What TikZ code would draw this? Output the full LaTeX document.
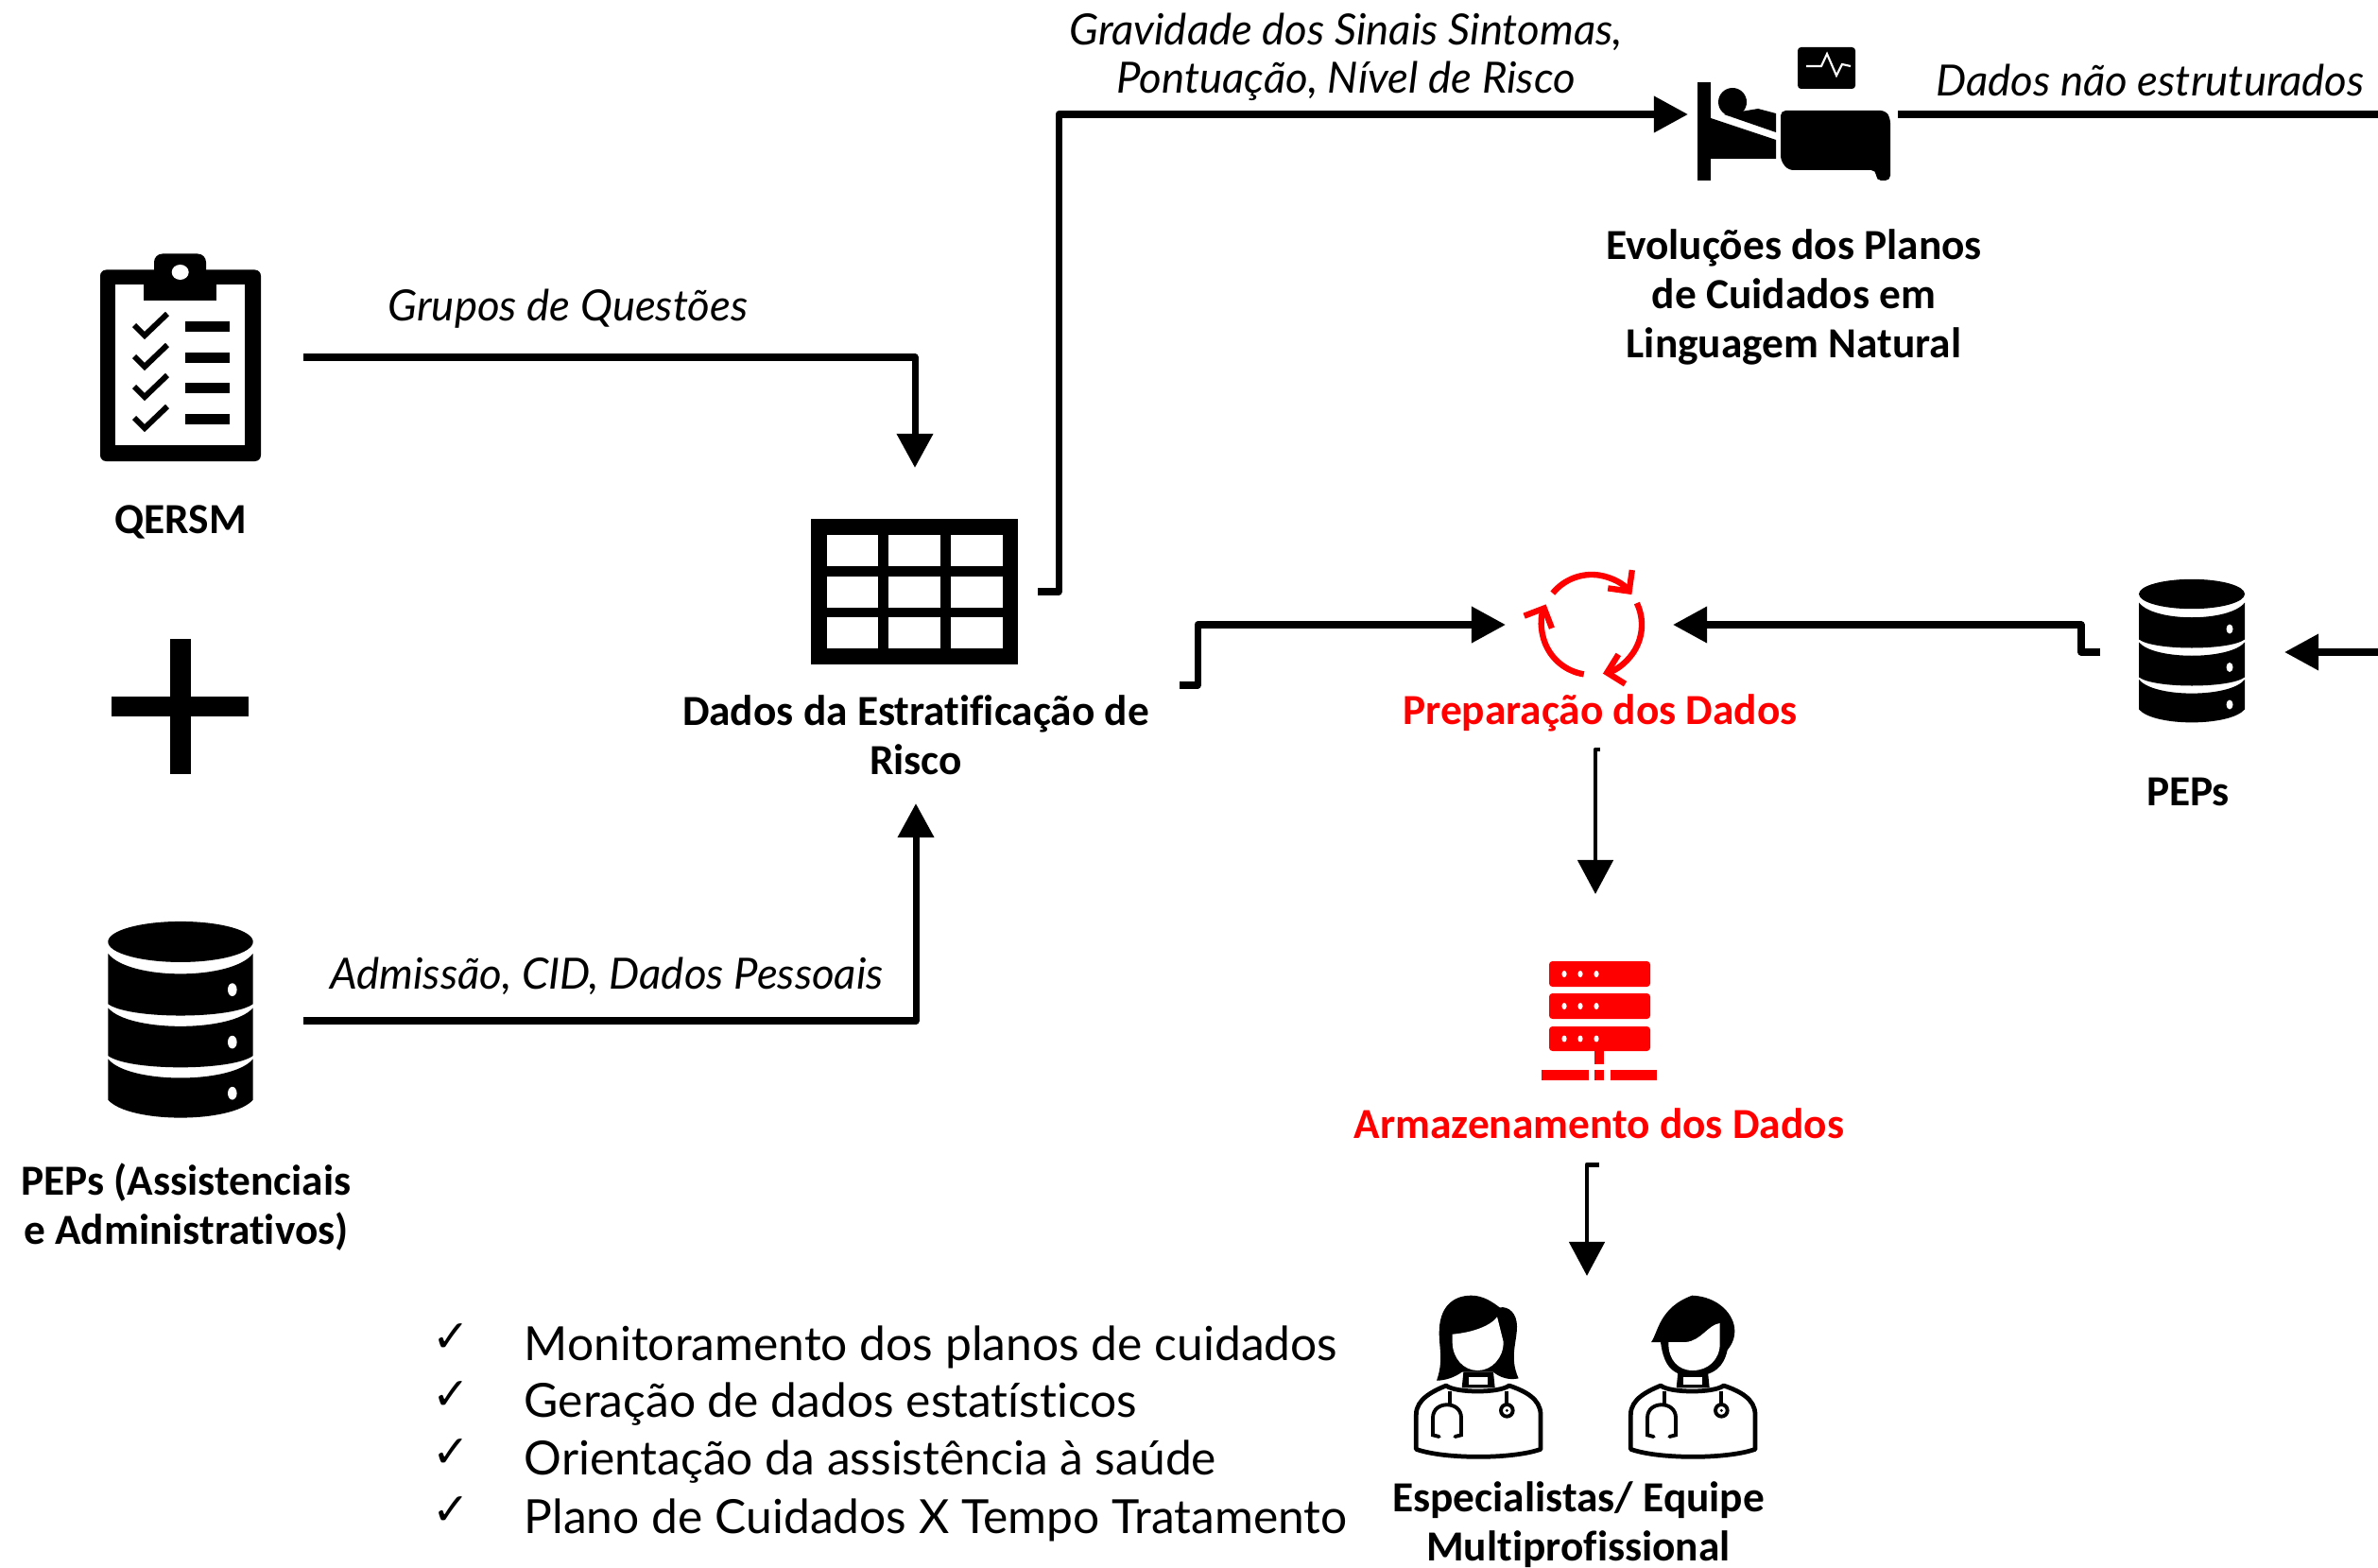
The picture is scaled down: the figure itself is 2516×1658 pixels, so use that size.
\documentclass[tikz,border=0pt]{standalone}
\usepackage{fontspec}
\setmainfont[Ligatures=NoCommon]{Carlito}
\newfontfamily\rotulofont[Ligatures=NoCommon]{Lato}
\newfontfamily\checkfont{DejaVu Sans}
\usetikzlibrary{arrows.meta}

\tikzset{
  titulo/.style={font=\bfseries\fontsize{12.9}{14.8}\selectfont, align=center},
  rotulo/.style={font=\rotulofont\itshape\fontsize{12.95}{14.6}\selectfont, align=center},
  lista/.style={font=\rotulofont\fontsize{14.15}{15}\selectfont, anchor=west, inner sep=0pt},
  conector/.style={line width=2pt, line join=round},
  fino/.style={line width=1.4pt, line join=round},
  vazio/.style={inner sep=0pt, outer sep=0pt},
  dbicon/.pic={
    \fill (0,-61) ellipse[x radius=56, y radius=15.7];
    \foreach \ya/\yb/\yc/\yd in {-52/-36/-13/-4, -10/4/27/36, 29.5/44/61/76.5}{
      \fill (-56,\ya) .. controls (-40,\yb+5) and (40,\yb+5) .. (56,\ya) -- (56,\yc)
        .. controls (40,\yd+3) and (-40,\yd+3) .. (-56,\yc) -- cycle;
    }
    \foreach \yh in {-24,16.5,56}{
      \fill[white] (40,\yh) ellipse[x radius=3.5, y radius=5];
    }
  },
  corpomedico/.pic={
    \draw[line width=1.35pt, line join=round, fill=white] (175,580) -- (175,470)
      .. controls (175,420) and (230,395) .. (270,378) .. controls (300,402) and (440,402) .. (470,378)
      .. controls (520,395) and (570,420) .. (570,470) -- (570,580)
      .. controls (480,612) and (265,612) .. (175,580) -- cycle;
    \draw[line width=.9pt] (282,395) -- (282,440);
    \draw[line width=1.1pt, line cap=round] (248,540) -- (228,535) -- (228,480)
      .. controls (228,425) and (318,425) .. (318,480) -- (318,535) -- (298,540);
    \draw[line width=.9pt] (462,395) -- (462,435);
    \draw[line width=1.1pt] (463,457) circle[radius=19];
    \fill (463,457) circle[radius=5];
  },
  medica/.pic={
    \fill (325,335) -- (420,335) -- (425,385) -- (320,385) -- cycle;
    \fill (240,362) .. controls (262,300) and (248,260) .. (248,210)
      .. controls (248,130) and (290,92) .. (350,92) .. controls (390,92) and (420,115) .. (440,130)
      .. controls (470,125) and (495,150) .. (495,190) .. controls (495,240) and (470,290) .. (500,355)
      .. controls (470,362) and (440,352) .. (420,335) -- (320,335) .. controls (300,350) and (270,362) .. (240,362) -- cycle;
    \fill[white] (290,215) .. controls (350,210) and (410,190) .. (432,160) -- (452,240)
      .. controls (452,290) and (415,330) .. (370,330) .. controls (325,330) and (290,290) .. (290,240) -- cycle;
    \fill[white] (342,352) rectangle (403,374);
  },
  medico/.pic={
    \fill (325,335) -- (420,335) -- (425,385) -- (320,385) -- cycle;
    \fill (240,240) .. controls (262,210) and (265,130) .. (370,92)
      .. controls (450,95) and (505,150) .. (505,205) .. controls (505,235) and (490,255) .. (482,265)
      .. controls (470,320) and (440,345) .. (372,350) .. controls (310,345) and (280,320) .. (270,240) -- cycle;
    \fill[white] (295,240) -- (350,240) .. controls (400,235) and (420,185) .. (458,180) -- (458,245)
      .. controls (458,295) and (420,330) .. (372,330) .. controls (325,330) and (295,295) .. (295,245) -- cycle;
    \fill[white] (342,352) rectangle (403,374);
  }
}

\begin{document}
\begin{tikzpicture}[x=0.01cm,y=-0.01cm,>={Triangle[length=3.6mm,width=3.7mm]}]
  \useasboundingbox (0,0) rectangle (2516,1658);

% define the icon areas
  \node[vazio, minimum width=2.6cm, minimum height=2.2cm] (prancheta) at (191,378) {};
  \node[vazio, minimum width=2.6cm, minimum height=2.08cm] (dbesq) at (191,1080) {};
  \node[vazio, minimum width=2.6cm, minimum height=2.62cm] (tabela) at (968,626) {};
  \node[vazio, minimum width=2.22cm, minimum height=1.4cm] (leito) at (1897,121) {};
  \node[vazio, minimum width=1.77cm, minimum height=1.2cm] (ciclo) at (1681.5,661) {};
  \node[vazio, minimum width=1.95cm, minimum height=1.53cm] (dbdir) at (2319.5,690) {};
  \node[vazio, minimum width=1.2cm, minimum height=1.98cm] (servidor) at (1688,1045) {};
  \node[vazio, minimum width=1.2cm, minimum height=2cm] (medicos) at (1679,1450) {};
  \coordinate (saidadados) at (1248,725);
  \coordinate (bordaleito) at (2516,121);
  \coordinate (bordapeps) at (2516,690);

% define the labels
  \node[titulo] (qersm) at (191,552) {QERSM};
  \node[titulo] (pepsadm) at (197,1277) {PEPs (Assistenciais\\e Administrativos)};
  \node[titulo, vazio, minimum height=1.44cm] (dados) at (969,778) {Dados da Estratificação de\\Risco};
  \node[titulo] (evolucoes) at (1898,314) {Evoluções dos Planos\\de Cuidados em\\Linguagem Natural};
  \node[titulo, text=red, vazio, minimum height=.78cm] (preparacao) at (1693,754) {Preparação dos Dados};
  \node[titulo] (peps) at (2315,838) {PEPs};
  \node[titulo, text=red, vazio, minimum height=.86cm] (armazenamento) at (1692,1189) {Armazenamento dos Dados};
  \node[titulo] (especialistas) at (1670,1613) {Especialistas/ Equipe\\Multiprofissional};
  \node[rotulo] (gravidade) at (1424,60) {Gravidade dos Sinais Sintomas,\\Pontuação, Nível de Risco};
  \node[rotulo] (naoestrut) at (2275,85) {Dados não estruturados};
  \node[rotulo] (grupos) at (601,327) {Grupos de Questões};
  \node[rotulo] (admissao) at (642,1033) {Admissão, CID, Dados Pessoais};

% the list
  \foreach \yl/\txt [count=\i] in {1425/Monitoramento dos planos de cuidados, 1486/Geração de dados estatísticos,
      1547/Orientação da assistência à saúde, 1608/Plano de Cuidados X Tempo Tratamento}{
    \node[lista] (item\i) at (554,\yl) {\txt};
    \node[lista, font=\checkfont\fontsize{13.5}{15}\selectfont] (marca\i) at (457,\yl-9) {✓};
  }

% clipboard
  \fill[rounded corners=1.8pt] (106,285.5) rectangle (276,488);
  \fill[rounded corners=2.5pt] (163,268.5) rectangle (218,305);
  \fill[white] (122,301) rectangle (259,471);
  \fill (152,295) rectangle (229,318);
  \fill[white] (190.7,288) ellipse[x radius=9, y radius=8];
  \foreach \yc in {343,376,408,441}{
    \draw[line width=1.7pt] (142,\yc+1) -- (153,\yc+12) -- (177,\yc-11);
    \fill (196,\yc-3) rectangle (243,\yc+8);
  }

% plus sign
  \fill (180,676) rectangle (202,819);
  \fill (118,737) rectangle (263,758);

% databases
  \pic[scale=1.37] at (191,1080) {dbicon};
  \pic at (2319,689.5) {dbicon};

% table
  \fill (858,549) rectangle (1077,703);
  \foreach \xa/\xb in {875/929, 940/995, 1006/1061}{
    \foreach \ya/\yb in {566/599, 610/643, 653/686}{
      \fill[white] (\xa,\ya) rectangle (\xb,\yb);
    }
  }

% bed with monitor
  \fill[rounded corners=1pt] (1902,50) rectangle (1963,94);
  \draw[white, line width=.6pt] (1911,70) -- (1927,70) -- (1933,57) -- (1943,80) -- (1949,68) -- (1958,70);
  \fill (1796,87) rectangle (1810,191);
  \fill (1833,108) circle[radius=15];
  \fill (1824,121) -- (1860,115) -- (1879,120) -- (1879,140) -- cycle;
  \fill (1810,125) -- (1879,148) -- (1879,168) -- (1810,168) -- cycle;
  \fill[rounded corners=1.5pt] (1884,117) -- (1995,117) -- (2000,125) -- (2000,191) -- (1985,191) -- (1985,180) -- (1892,180) -- (1884,170) -- cycle;

% recycle arrows
  \coordinate (centro) at (1684,661);
  \foreach \a/\b in {219/323, 334.4/437, 99/204}{
    \draw[red, line width=1.8pt, -{Straight Barb[length=1.6mm,width=3.2mm]}] (centro) ++(\a:53) arc[start angle=\a, end angle=\b, radius=53];
  }

% server
  \foreach \ys/\ye in {1017/1044, 1051/1078, 1086/1112}{
    \fill[red, rounded corners=1pt] (1639,\ys) rectangle (1746,\ye);
    \foreach \xd in {1655,1672,1689}{
      \fill[white] (\xd,{(\ys+\ye)/2}) ellipse[x radius=2.6, y radius=3.5];
    }
  }
  \fill[red] (1687,1112) rectangle (1697,1126);
  \fill[red] (1631,1132) rectangle (1681,1143);
  \fill[red] (1687,1132) rectangle (1697,1143);
  \fill[red] (1704,1132) rectangle (1753,1143);

% doctors
  \pic[scale=1/3] at (1440,1340) {corpomedico};
  \pic[scale=1/3] at (1440,1340) {medica};
  \pic[scale=1/3] at (1667,1340) {corpomedico};
  \pic[scale=1/3] at (1667,1340) {medico};

% define the links
  \draw[conector,->] (prancheta.east) -| (tabela.north);
  \draw[conector,->] (dbesq.east) -| (dados.south);
  \draw[conector,->] (tabela.east) -- ++(22,0) |- (leito.west);
  \draw[conector] (leito.east) -- (bordaleito);
  \draw[conector,->] (saidadados) -- ++(19,0) |- (ciclo.west);
  \draw[conector,->] (dbdir.west) -- ++(-20,0) |- (ciclo.east);
  \draw[conector,->] (bordapeps) -- (dbdir.east);
  \draw[fino,->] (preparacao.south) -| (servidor.north);
  \draw[fino,->] (armazenamento.south) -| (medicos.north);
\end{tikzpicture}
\end{document}
